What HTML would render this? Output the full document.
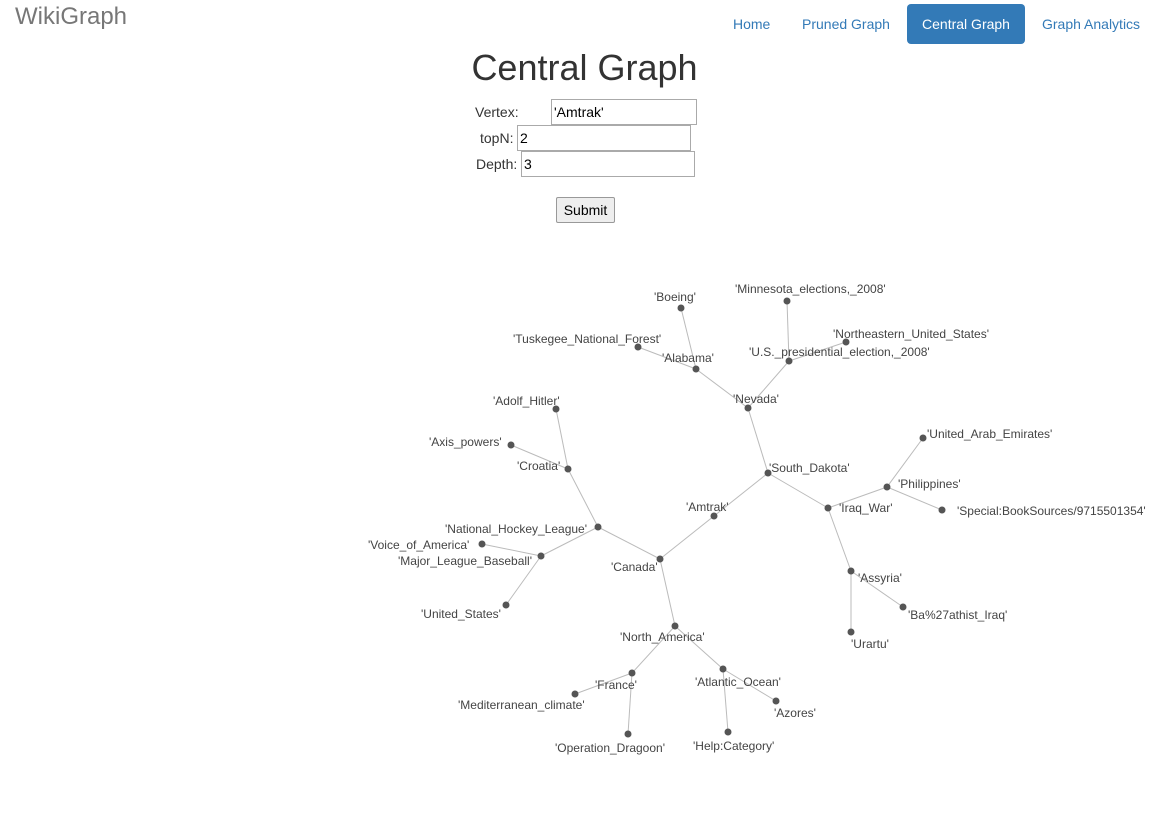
<!DOCTYPE html>
<html><head><meta charset="utf-8"><style>
body{margin:0;width:1169px;height:815px;background:#fff;font-family:"Liberation Sans",sans-serif;color:#333;position:relative;overflow:hidden}
.abs{position:absolute}
.nav a{position:absolute;top:16px;font-size:14px;color:#337ab7;text-decoration:none}
input{font-family:"Liberation Sans",sans-serif;font-size:14px;border:1px solid #aaa;height:22px;padding:0 2px;box-sizing:border-box}
</style></head><body>
<div class="abs" style="left:15px;top:3px;font-size:24px;color:#777">WikiGraph</div>
<div class="nav">
<a style="left:733px">Home</a>
<a style="left:802px">Pruned Graph</a>
<a style="left:907px;top:4px;width:118px;height:40px;line-height:40px;text-align:center;background:#337ab7;color:#fff;border-radius:4px">Central Graph</a>
<a style="left:1042px">Graph Analytics</a>
</div>
<div class="abs" style="left:0;width:1169px;text-align:center;top:47px;font-size:36px">Central Graph</div>
<div class="abs" style="left:475px;top:99px;font-size:14px;line-height:26px">Vertex: <input style="width:146px;position:absolute;left:76px;top:0;height:26px" value="'Amtrak'"></div>
<div class="abs" style="left:480px;top:125px;font-size:14px;line-height:26px">topN: <input style="width:174px;position:absolute;left:37px;top:0;height:26px" value="2"></div>
<div class="abs" style="left:476px;top:151px;font-size:14px;line-height:26px">Depth: <input style="width:174px;position:absolute;left:45px;top:0;height:26px" value="3"></div>
<button class="abs" style="left:556px;top:197px;width:59px;height:26px;font-family:'Liberation Sans',sans-serif;font-size:14px;border:1px solid #999;border-radius:2px;background:#eee">Submit</button>
<svg class="abs" style="left:0;top:0" width="1169" height="815" id="g"></svg>
<script>
const names=["'Minnesota_elections,_2008'","'Northeastern_United_States'","'U.S._presidential_election,_2008'","'Boeing'","'Tuskegee_National_Forest'","'Alabama'","'Nevada'","'Adolf_Hitler'","'Axis_powers'","'Croatia'","'South_Dakota'","'United_Arab_Emirates'","'Philippines'","'Special:BookSources/9715501354'","'Iraq_War'","'Amtrak'","'National_Hockey_League'","'Voice_of_America'","'Major_League_Baseball'","'Canada'","'Assyria'","'United_States'","'Ba%27athist_Iraq'","'Urartu'","'North_America'","'France'","'Atlantic_Ocean'","'Azores'","'Mediterranean_climate'","'Operation_Dragoon'","'Help:Category'"];
const nodeX=[787,846,789,681,638,696,748,556,511,568,768,923,887,942,828,714,598,482,541,660,851,506,903,851,675,632,723,776,575,628,728];
const nodeY=[301,342,361,308,347,369,408,409,445,469,473,438,487,510,508,516,527,544,556,559,571,605,607,632,626,673,669,701,694,734,732];
const labelX=[735,833,749,654,513,662,733,493,429,517,769,927,898,957,839,686,445,368,398,611,858,421,908,851,620,595,695,774,458,555,693];
const labelY=[293,338,356,301,343,362,403,405,446,470,472,438,488,515,512,511,533,549,565,571,582,618,619,648,641,689,686,717,709,752,750];
const edges=[[3,5],[4,5],[5,6],[0,2],[1,2],[2,6],[6,10],[10,15],[10,14],[14,12],[12,11],[12,13],[14,20],[20,22],[20,23],[15,19],[19,16],[16,9],[9,7],[9,8],[16,18],[18,17],[18,21],[19,24],[24,25],[24,26],[25,28],[25,29],[26,30],[26,27]];
const svg=document.getElementById('g'),NS='http://www.w3.org/2000/svg';
edges.forEach(([a,b])=>{const l=document.createElementNS(NS,'line');


l.setAttribute('x1',nodeX[a]);l.setAttribute('y1',nodeY[a]);l.setAttribute('x2',nodeX[b]);l.setAttribute('y2',nodeY[b]);
l.setAttribute('stroke','#bbb');l.setAttribute('stroke-width','1');svg.appendChild(l);});
names.forEach((n,i)=>{const c=document.createElementNS(NS,'circle');


c.setAttribute('cx',nodeX[i]);c.setAttribute('cy',nodeY[i]);c.setAttribute('r',3.5);c.setAttribute('fill','#555');svg.appendChild(c);
const t=document.createElementNS(NS,'text');


t.setAttribute('x',labelX[i]);t.setAttribute('y',labelY[i]);t.setAttribute('font-size','12');t.setAttribute('fill','#444');t.setAttribute('font-family','Liberation Sans, sans-serif');
t.textContent=n;svg.appendChild(t);});
</script>
</body></html>
